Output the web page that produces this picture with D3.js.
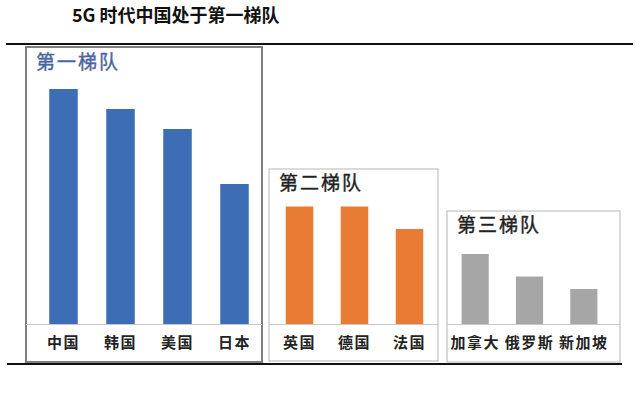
<!DOCTYPE html>
<html>
<head>
<meta charset="utf-8">
<script src="https://cdn.jsdelivr.net/npm/d3@7"></script>
<style>
  body { margin: 0; background: #fff; }
  text { font-family: "Noto Sans CJK SC", "Noto Sans", sans-serif; }
</style>
</head>
<body>
<div id="chart"></div>
<script>
// tiers and their countries
const tierNames = ['第一梯队', '第二梯队', '第三梯队'];
const tier1 = ['中国', '韩国', '美国', '日本'];
const tier2 = ['英国', '德国', '法国'];
const tier3 = ['加拿大', '俄罗斯', '新加坡'];
// relative 5G strength (no axis in source)
const tier1Values = [94, 86, 78, 56];
const tier2Values = [47, 47, 38];
const tier3Values = [28, 19, 14];

const width = 640, height = 397;
const baseY = 324;

let svg = d3.select('#chart')
  .append('svg')
  .attr('width', width)
  .attr('height', height);

svg.append('text')
  .attr('x', 72)
  .attr('y', 22)
  .attr('font-size', 18)
  .attr('font-weight', 'bold')
  .attr('fill', '#111')
  .text('5G 时代中国处于第一梯队');

svg.append('line')
  .attr('x1', 6).attr('x2', 633)
  .attr('y1', 44).attr('y2', 44)
  .attr('stroke', '#111').attr('stroke-width', 2);

svg.append('line')
  .attr('x1', 7).attr('x2', 622)
  .attr('y1', 364).attr('y2', 364)
  .attr('stroke', '#111').attr('stroke-width', 2);

let y = d3.scaleLinear()
  .domain([0, 100])
  .range([baseY, baseY - 250]);

const groups = [
  { name: tierNames[0], cats: tier1, vals: tier1Values, color: '#3d6db4',
    box: [26, 47, 262, 362], range: [35, 263], border: '#7f7f7f', bw: 2, titleFill: '#4a64a0', titleY: 69 },
  { name: tierNames[1], cats: tier2, vals: tier2Values, color: '#e97c35',
    box: [269, 169, 438, 361], range: [272, 437], border: '#b5b5b5', bw: 1, titleFill: '#222', titleY: 190 },
  { name: tierNames[2], cats: tier3, vals: tier3Values, color: '#a6a6a6',
    box: [447, 211, 620, 362], range: [448, 611], border: '#b5b5b5', bw: 1, titleFill: '#222', titleY: 232 }
];

groups.forEach(grp => {
  const [x0, y0, x1, y1] = grp.box;
  let g = svg.append('g');

  g.append('rect')
    .attr('x', x0).attr('y', y0)
    .attr('width', x1 - x0).attr('height', y1 - y0)
    .attr('fill', '#fff')
    .attr('stroke', grp.border)
    .attr('stroke-width', grp.bw);

  g.append('text')
    .attr('x', x0 + 10)
    .attr('y', grp.titleY)
    .attr('font-size', 19)
    .attr('letter-spacing', 2)
    .attr('fill', grp.titleFill)
    .style('paint-order', 'stroke')
    .attr('stroke', grp.titleFill)
    .attr('stroke-width', 0.4)
    .text(grp.name);

  let x = d3.scaleBand()
    .domain(grp.cats)
    .range(grp.range)
    .paddingInner(0.5)
    .paddingOuter(0.25);

  g.append('line')
    .attr('x1', x0).attr('x2', x1)
    .attr('y1', baseY + 0.5).attr('y2', baseY + 0.5)
    .attr('stroke', '#c8c8c8');

  g.selectAll('.bar')
    .data(grp.cats)
    .enter()
    .append('rect')
      .attr('class', 'bar')
      .attr('x', d => x(d))
      .attr('width', x.bandwidth())
      .attr('y', (d, i) => y(grp.vals[i]))
      .attr('height', (d, i) => baseY - y(grp.vals[i]))
      .attr('fill', grp.color);

  g.selectAll('.lbl')
    .data(grp.cats)
    .enter()
    .append('text')
      .attr('class', 'lbl')
      .attr('x', d => x(d) + x.bandwidth() / 2)
      .attr('y', 348)
      .attr('text-anchor', 'middle')
      .attr('font-size', 15)
      .attr('font-weight', 'bold')
      .attr('letter-spacing', 1.5)
      .attr('fill', '#222')
      .text(d => d);
});
</script>
</body>
</html>
